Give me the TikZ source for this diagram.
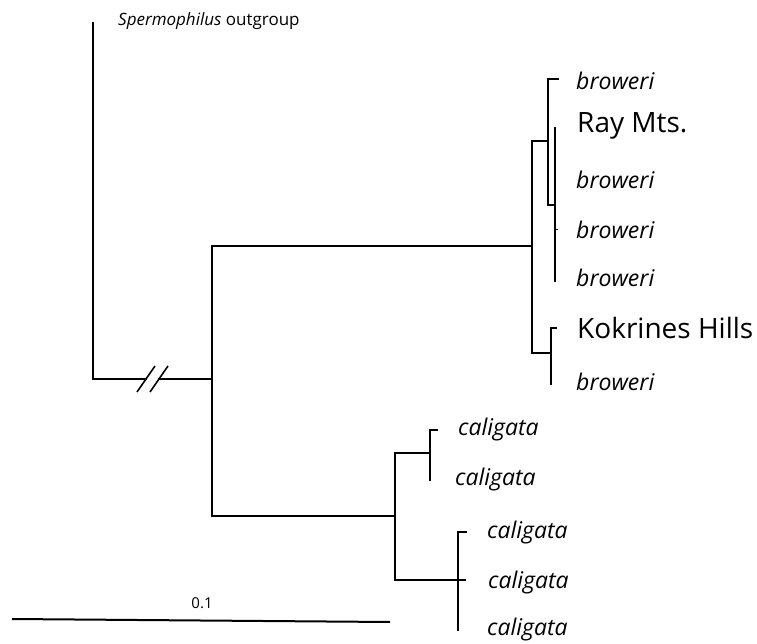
\documentclass[tikz,border=0pt]{standalone}
\usepackage{fontspec}
\setmainfont{Open Sans}
\begin{document}
\begin{tikzpicture}[x=1pt,y=-1pt,
  branch/.style={line width=2pt,line cap=rect,line join=miter,black},
  sp/.style={anchor=base west,inner sep=0pt,font=\fontsize{23}{23}\selectfont\itshape},
  loc/.style={anchor=base west,inner sep=0pt,font=\fontsize{28}{28}\selectfont},
  small/.style={anchor=base west,inner sep=0pt,font=\fontsize{17}{17}\selectfont}]
\useasboundingbox (0,0) rectangle (757,644);
% internal nodes
\coordinate (og) at (93,23);
\coordinate (ogc) at (93,379);
\coordinate (brk1) at (146,379);
\coordinate (brk2) at (159,379);
\coordinate (root) at (212,379);
\coordinate (nB) at (532,246);
\coordinate (nB1) at (548,141);
\coordinate (nB1a) at (555,205);
\coordinate (nB2) at (551,353);
\coordinate (nC) at (395,516);
\coordinate (nC1) at (430,453);
\coordinate (nC2) at (458,580);
% tips
\coordinate (t1) at (558,79);
\coordinate (tR) at (555,128);
\coordinate (t3a) at (555,230);
\coordinate (t3) at (558,230);
\coordinate (t4) at (555,281);
\coordinate (tK) at (556,328);
\coordinate (t5) at (551,384);
\coordinate (c1) at (437,430);
\coordinate (c2) at (430,480);
\coordinate (c3) at (466,532);
\coordinate (c4) at (465,580);
\coordinate (c5) at (458,630);
% branches
\draw[branch] (og) -- (ogc) -- (brk1);
\draw[branch] (brk2) -- (root);
\draw[line width=1.6pt] ([shift={(-9,13)}]brk1) -- ([shift={(9,-13)}]brk1);
\draw[line width=1.6pt] ([shift={(-9,13)}]brk2) -- ([shift={(9,-13)}]brk2);
\draw[branch] (root) |- (nB);
\draw[branch] (root) |- (nC);
\draw[branch] (nB) |- (nB1);
\draw[branch] (nB) |- (nB2);
\draw[branch] (nB1) |- (t1);
\draw[branch] (nB1) |- (nB1a);
\draw[branch] (nB1a) |- (tR);
\draw[branch] (nB1a) |- (t4);
\draw[line width=1pt] (t3a) -- (t3);
\draw[branch] (nB2) |- (tK);
\draw[branch] (nB2) |- (t5);
\draw[branch] (nC) |- (nC1);
\draw[branch] (nC) |- (c4);
\draw[branch] (nC1) |- (c1);
\draw[branch] (nC1) |- (c2);
\draw[branch] (nC2) |- (c3);
\draw[branch] (nC2) |- (c5);
% labels
\node[small] (lOg) at (118,26) {\textit{Spermophilus} outgroup};
\node[sp] (lb1) at (576,90) {broweri};
\node[loc] (lRay) at (577,133) {Ray Mts.};
\node[sp] (lb2) at (576,189) {broweri};
\node[sp] (lb3) at (576,239) {broweri};
\node[sp] (lb4) at (576,286) {broweri};
\node[loc] (lKok) at (577,338) {Kokrines Hills};
\node[sp] (lb5) at (576,390) {broweri};
\node[sp] (lc1) at (458,435) {caligata};
\node[sp] (lc2) at (455,485) {caligata};
\node[sp] (lc3) at (487,538) {caligata};
\node[sp] (lc4) at (488,588) {caligata};
\node[sp] (lc5) at (487,635) {caligata};
% scale bar
\coordinate (sb1) at (12,619);
\coordinate (sb2) at (390,622);
\draw[line width=2pt] (sb1) -- (sb2);
\node[anchor=base,inner sep=0pt,font=\fontsize{15}{15}\selectfont] (lsc) at (202,608) {0.1};
\end{tikzpicture}
\end{document}
